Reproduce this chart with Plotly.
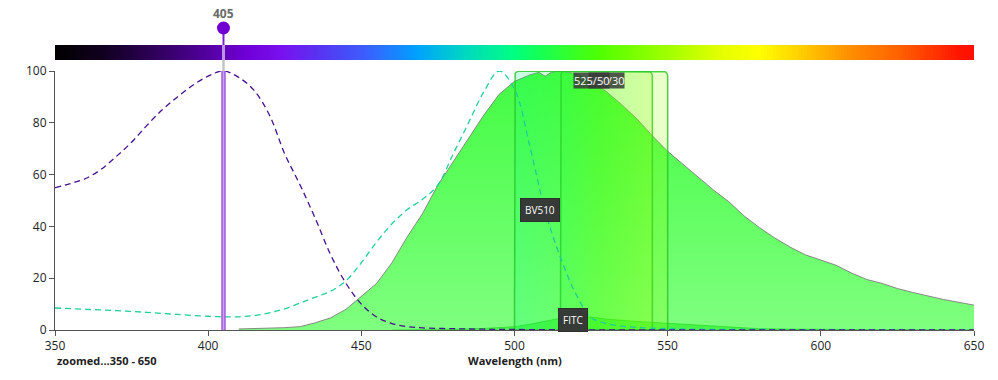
import numpy as np
import plotly.graph_objects as go

# ---------------- data ----------------
BV510_EX_WL = [350, 355, 360, 365, 370, 375, 380, 385, 390, 395, 400, 405, 410, 415, 420, 425,
               430, 435, 440, 445, 450, 455, 460, 465, 470, 480, 490, 500, 520, 550, 600, 650]
BV510_EX = [55, 56.5, 58.5, 62, 67, 72.5, 79, 85, 90, 94.5, 98, 100, 97.5, 92.5, 83, 68,
            56, 43, 29, 18, 10, 5, 2.5, 1.3, 0.8, 0.5, 0.3, 0.2, 0.1, 0, 0, 0]

BV510_EM_WL = [410, 415, 420, 425, 430, 435, 440, 445, 450, 455, 460, 465, 470, 475, 480, 485,
               490, 495, 500, 505, 508, 510, 512, 515, 518, 520, 525, 530, 535, 540, 545, 550,
               555, 560, 565, 570, 575, 580, 585, 590, 595, 600, 605, 610, 615, 620, 625, 630,
               635, 640, 645, 650]
BV510_EM = [0.4, 0.5, 0.7, 0.9, 1.3, 2.8, 4.7, 8, 13, 18, 26, 36, 45, 56, 65, 74,
            83, 91, 96, 98.5, 99.5, 98, 99.5, 100, 99.5, 99, 96, 92, 87, 81.5, 75, 69,
            64, 59, 54, 49.5, 44, 39.5, 35.5, 32, 29, 27, 25, 22, 19.5, 18, 16, 14.5,
            13, 11.8, 10.7, 9.6]

FITC_EX_WL = [350, 360, 370, 380, 390, 400, 405, 410, 415, 420, 425, 430, 435, 440, 445, 450,
              455, 460, 465, 470, 475, 480, 485, 490, 495, 500, 505, 510, 515, 520, 525, 530,
              535, 540, 550, 560, 580, 600, 650]
FITC_EX = [8.5, 8.0, 7.5, 6.8, 6.0, 5.3, 5.1, 5.1, 5.6, 6.6, 8.2, 10.4, 12.7, 15, 19, 26,
           34, 41, 46.5, 50.5, 56, 68, 80, 92, 100, 93, 71, 46, 28, 14, 4.8, 2.5,
           1.5, 1.0, 0.5, 0.3, 0.2, 0.1, 0]

FITC_EM_WL = [460, 470, 480, 490, 500, 505, 510, 515, 519, 525, 530, 540, 550, 560, 570, 580,
              590, 600, 620, 650]
FITC_EM = [0, 0.1, 0.3, 0.6, 1.3, 2.2, 3.4, 4.7, 5.5, 5.0, 4.2, 3.3, 2.6, 1.7, 1.0, 0.5,
           0.35, 0.25, 0.12, 0.05]

FILTER_NAMES = ["530/30", "525/50"]
FILTER_CENTERS = [530, 525]
FILTER_WIDTHS = [30, 50]

LASER_WL = 405
LASER_LABEL = "405"

DYE_LABELS = ["BV510", "FITC"]
DYE_LABEL_X = [508.3, 519]
DYE_LABEL_Y = [46.3, 3.9]

X_TICKS = [350, 400, 450, 500, 550, 600, 650]
Y_TICKS = [0, 20, 40, 60, 80, 100]

# visible spectrum colour stops (decorative bar)
SPEC_WL = [350, 365, 380, 395, 405, 413, 424, 435, 452, 468, 484, 500, 506, 528, 550, 566,
           580, 593, 609, 626, 645, 650]
SPEC_HEX = ["#000000", "#10001e", "#2a0050", "#48008a", "#6000b8", "#7000d8", "#7a10f0",
            "#5a30f0", "#3a60ff", "#00a0ff", "#00d8c0", "#00ff80", "#10ff60", "#50ff00",
            "#a0ff00", "#e0ff00", "#ffff00", "#ffd000", "#ff9000", "#ff6000", "#ff1500",
            "#ff1000"]

FONT = "Open Sans"

# ---------------- helpers ----------------
def hex_rgb(h):
    h = h.lstrip("#")
    return [int(h[i:i + 2], 16) for i in (0, 2, 4)]

SPEC_RGB = np.array([hex_rgb(h) for h in SPEC_HEX], dtype=float)

def spec_color(w, alpha):
    r = np.interp(w, SPEC_WL, SPEC_RGB[:, 0])
    g = np.interp(w, SPEC_WL, SPEC_RGB[:, 1])
    b = np.interp(w, SPEC_WL, SPEC_RGB[:, 2])
    return f"rgba({r:.0f},{g:.0f},{b:.0f},{alpha})"

W, H = 998, 380
M_L, M_R, M_T, M_B = 55, 24, 10, 50
PW, PH = W - M_L - M_R, H - M_T - M_B
XR = [350, 650]
NM_PER_PX = (XR[1] - XR[0]) / PW

def py(px):  # pixel row -> paper y
    return (H - M_B - px) / PH

Y_DOMAIN = [0, py(71)]
BAR_DOMAIN = [py(60), py(45)]

fig = go.Figure()

# spectrum bar
grid = np.arange(350, 651, 1)
cs = [[(w - 350) / 300, c] for w, c in zip(SPEC_WL, SPEC_HEX)]
fig.add_trace(go.Heatmap(x=grid, y=[0.5], z=[grid], colorscale=cs, zmin=350, zmax=650,
                         showscale=False, hoverinfo="skip", xaxis="x", yaxis="y2"))

# BV510 emission (filled)
fig.add_trace(go.Scatter(
    x=BV510_EM_WL, y=BV510_EM, mode="lines", fill="tozeroy",
    line=dict(color="rgba(125,125,125,0.9)", width=1),
    fillgradient=dict(type="vertical", start=0, stop=100,
                      colorscale=[[0, "rgba(0,255,0,0.5)"], [1, "rgba(0,250,0,0.74)"]]),
    hoverinfo="skip", showlegend=False))

# FITC emission (filled)
fig.add_trace(go.Scatter(
    x=FITC_EM_WL, y=FITC_EM, mode="lines", fill="tozeroy",
    line=dict(color="rgba(0,200,0,0.6)", width=0.8),
    fillcolor="rgba(30,235,30,0.55)", hoverinfo="skip", showlegend=False))

# filter boxes (rounded tops)
rx = 5 * NM_PER_PX
ry = 5 * 100 / (Y_DOMAIN[1] * PH)
ang = np.linspace(0, np.pi / 2, 7)
for name, c, wdt in zip(FILTER_NAMES, FILTER_CENTERS, FILTER_WIDTHS):
    x0, x1 = c - wdt / 2, c + wdt / 2
    xs = [x0]
    ys = [0]
    for a in ang:
        xs.append(x0 + rx - rx * np.cos(a))
        ys.append(100 - ry + ry * np.sin(a))
    for a in ang[::-1]:
        xs.append(x1 - rx + rx * np.cos(a))
        ys.append(100 - ry + ry * np.sin(a))
    xs += [x1, x0]
    ys += [0, 0]
    stops = [x0] + [w for w in SPEC_WL if x0 < w < x1] + [x1]
    fcs = [[(w - x0) / (x1 - x0), spec_color(w, 0.21)] for w in stops]
    fig.add_trace(go.Scatter(
        x=xs, y=ys, mode="lines", fill="toself",
        line=dict(color="rgba(40,200,40,0.85)", width=1.5),
        fillgradient=dict(type="horizontal", start=x0, stop=x1, colorscale=fcs),
        hoverinfo="skip", showlegend=False))

# excitation curves (dashed)
fig.add_trace(go.Scatter(x=FITC_EX_WL, y=FITC_EX, mode="lines",
                         line=dict(color="#1fcf98", width=1.3, dash="6px,4px", shape="spline"),
                         hoverinfo="skip", showlegend=False))
fig.add_trace(go.Scatter(x=BV510_EX_WL, y=BV510_EX, mode="lines",
                         line=dict(color="#45108f", width=1.3, dash="6px,4px", shape="spline"),
                         hoverinfo="skip", showlegend=False))

# laser line + marker
mr_x = 6.5 * NM_PER_PX
mr_y = 6.5 / PH
shapes = [
    dict(type="line", xref="x", yref="y", x0=LASER_WL, x1=LASER_WL, y0=0, y1=100,
         line=dict(color="#a25ddc", width=4.5), layer="above"),
    dict(type="line", xref="x", yref="y", x0=LASER_WL, x1=LASER_WL, y0=0, y1=100,
         line=dict(color="#c8a2ee", width=1.5), layer="above"),
    dict(type="line", xref="x", yref="paper", x0=LASER_WL, x1=LASER_WL,
         y0=Y_DOMAIN[1], y1=BAR_DOMAIN[0], line=dict(color="#c4c4c4", width=2.5), layer="above"),
    dict(type="line", xref="x", yref="paper", x0=LASER_WL, x1=LASER_WL,
         y0=BAR_DOMAIN[0], y1=BAR_DOMAIN[1], line=dict(color="rgba(205,175,240,0.85)", width=3),
         layer="above"),
    dict(type="line", xref="x", yref="paper", x0=LASER_WL, x1=LASER_WL,
         y0=BAR_DOMAIN[1], y1=py(28), line=dict(color="#7b22d6", width=2), layer="above"),
    dict(type="circle", xref="x", yref="paper", x0=LASER_WL - mr_x, x1=LASER_WL + mr_x,
         y0=py(28) - mr_y, y1=py(28) + mr_y, fillcolor="#7000d2",
         line=dict(color="#7000d2", width=0), layer="above"),
]

annotations = []
annotations.append(dict(x=LASER_WL, y=py(14), xref="x", yref="paper", yanchor="middle",
                        text=f"<b>{LASER_LABEL}</b>", showarrow=False,
                        font=dict(color="#6a6a6a", size=12, family=FONT)))
for name, c in zip(FILTER_NAMES, FILTER_CENTERS):
    annotations.append(dict(
        x=c, y=96.5, xref="x", yref="y", text=name, showarrow=False,
        font=dict(color="white", size=11, family=FONT),
        bgcolor="rgba(55,60,55,0.85)", borderpad=0))
for lab, lx, ly in zip(DYE_LABELS, DYE_LABEL_X, DYE_LABEL_Y):
    annotations.append(dict(
        x=lx, y=ly, xref="x", yref="y", text=lab, showarrow=False,
        font=dict(color="white", size=10, family=FONT),
        bgcolor="#373b37", bordercolor="#2e302e", borderwidth=1, borderpad=4))
annotations.append(dict(x=0.5, y=py(360), xref="paper", yref="paper", yanchor="middle",
                        text="<b>Wavelength (nm)</b>", showarrow=False,
                        font=dict(size=11, color="#222", family=FONT)))
annotations.append(dict(x=0, y=py(360), xref="paper", yref="paper", xanchor="left",
                        yanchor="middle", text="<b>zoomed...350 - 650</b>", showarrow=False,
                        font=dict(size=11, color="#222", family=FONT)))

fig.update_layout(
    width=W, height=H, autosize=False,
    margin=dict(l=M_L, r=M_R, t=M_T, b=M_B, pad=0, autoexpand=False),
    paper_bgcolor="white", plot_bgcolor="white",
    showlegend=False,
    font=dict(family=FONT, size=12, color="#333"),
    xaxis=dict(range=XR, tickvals=X_TICKS, ticks="outside", ticklen=5, tickcolor="#555",
               showline=True, linecolor="#555", linewidth=1, showgrid=False, zeroline=False,
               anchor="y", automargin=False, tickfont=dict(size=12, color="#222")),
    yaxis=dict(range=[0, 100], domain=Y_DOMAIN, tickvals=Y_TICKS, ticks="outside", ticklen=5,
               tickcolor="#555", showline=True, linecolor="#555", linewidth=1, showgrid=False,
               zeroline=False, automargin=False, tickfont=dict(size=12, color="#222")),
    yaxis2=dict(range=[0, 1], domain=BAR_DOMAIN, visible=False, anchor="x", fixedrange=True,
                automargin=False),
    shapes=shapes,
    annotations=annotations,
)

fig.write_html("out.html", config={"displayModeBar": False},
               post_script="document.body.style.margin='0';document.body.style.overflow='hidden';")
